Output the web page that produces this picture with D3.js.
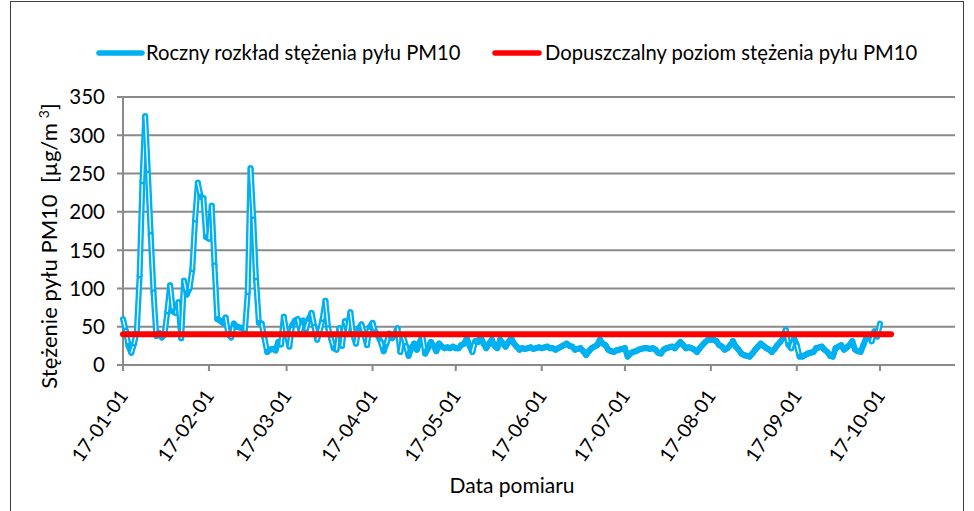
<!DOCTYPE html>
<html><head><meta charset="utf-8">
<script src="https://cdn.jsdelivr.net/npm/d3@7"></script>
<style>body{margin:0;background:#fff}svg{display:block}text{font-family:Lato,"Open Sans",sans-serif;fill:#000;white-space:pre}</style>
</head><body><svg id="c" width="974" height="511"></svg>
<script>
// ---- data ----
const startDate = "2017-01-01";
const pm10 = [
60,45,25,16,28,45,117,240,325,250,170,95,38,42,36,40,70,104,70,68,
82,35,110,92,100,125,190,238,220,218,167,165,208,130,60,58,55,62,40,36,
54,50,49,48,46,95,257,190,110,55,54,35,17,20,21,19,30,27,63,40,
24,52,58,60,45,58,47,60,68,50,33,45,60,84,48,35,22,20,48,25,
57,45,69,40,28,48,53,40,26,50,55,43,38,30,18,28,41,35,40,48,
17,38,25,12,22,28,20,30,38,15,22,30,25,18,28,24,22,23,22,24,
22,22,26,28,35,25,17,31,30,37,28,22,28,33,25,22,33,28,24,30,
35,28,24,20,22,21,22,23,21,22,23,22,23,24,22,22,20,22,24,26,
28,25,24,20,21,22,18,13,18,22,24,26,33,28,26,20,18,17,19,20,
21,22,11,15,17,18,20,21,22,22,21,22,20,16,15,20,22,23,24,22,
26,30,26,22,23,22,20,17,22,26,30,33,33,33,31,26,24,20,22,26,
31,24,20,15,13,12,11,15,20,24,28,25,22,20,17,21,26,30,35,46,
26,22,35,26,11,11,13,15,16,17,22,23,24,20,17,12,11,22,24,26,
20,23,26,31,20,18,17,26,35,39,31,44,37,54
];
const limitValue = 40;
const limitRange = ["2017-01-01", "2017-10-05"];
const yTicks = [0, 50, 100, 150, 200, 250, 300, 350];
const xTickDates = ["2017-01-01","2017-02-01","2017-03-01","2017-04-01","2017-05-01","2017-06-01","2017-07-01","2017-08-01","2017-09-01","2017-10-01"];
const seriesNames = ["Roczny rozkład stężenia pyłu PM10", "Dopuszczalny poziom stężenia pyłu PM10"];
const xTitle = "Data pomiaru";
const yTitleMain = "Stężenie pyłu PM10  [µg/m";
const yTitleSup = "3";
const yTitleEnd = "]";

// ---- chart ----
const parse = d3.timeParse("%Y-%m-%d");
const fmt = d3.timeFormat("%y-%m-%d");
const t0 = parse(startDate);
const series = pm10.map((v, i) => ({date: d3.timeDay.offset(t0, i), v}));

const svg = d3.select("#c");
const BLUE = "#00B0F0", RED = "#FF0000", GRID = "#8a8a8a";

const x = d3.scaleTime().domain([parse(xTickDates[0]), parse(xTickDates[xTickDates.length - 1])]).range([123, 880]);
const y = d3.scaleLinear().domain([0, 350]).range([365, 97]);

// frame
svg.append("rect").attr("x", 10.5).attr("y", 1.5).attr("width", 953).attr("height", 530)
  .attr("fill", "none").attr("stroke", "#404040").attr("stroke-width", 1);

// gridlines (with left tick stubs)
svg.append("g").selectAll("line").data(yTicks).join("line")
  .attr("x1", 117).attr("x2", 955)
  .attr("y1", d => y(d)).attr("y2", d => y(d))
  .attr("stroke", GRID).attr("stroke-width", 2);

// y axis line
svg.append("line").attr("x1", x(parse(xTickDates[0]))).attr("x2", x(parse(xTickDates[0])))
  .attr("y1", y(350)).attr("y2", y(0) + 6).attr("stroke", GRID).attr("stroke-width", 2);

// x ticks
svg.append("g").selectAll("line").data(xTickDates).join("line")
  .attr("x1", d => x(parse(d))).attr("x2", d => x(parse(d)))
  .attr("y1", y(0)).attr("y2", y(0) + 6)
  .attr("stroke", GRID).attr("stroke-width", 2);

// y tick labels
svg.append("g").selectAll("text").data(yTicks).join("text")
  .attr("x", 105).attr("y", d => y(d)).attr("dy", "0.36em")
  .attr("text-anchor", "end").attr("font-size", 20.5).text(d => d);

// x tick labels
svg.append("g").selectAll("text").data(xTickDates).join("text")
  .attr("transform", d => `translate(${x(parse(d)) + 6},${y(0) + 31}) rotate(-55)`)
  .attr("text-anchor", "end").attr("font-size", 19.5).text(d => fmt(parse(d)));

// data line: per-segment compound stroke (blue with thin white core)
const line = d3.line().x(d => x(d.date)).y(d => y(d.v));
const segG = svg.append("g");
for (let i = 0; i < series.length - 1; i++) {
  const seg = [series[i], series[i + 1]];
  segG.append("path").attr("d", line(seg)).attr("fill", "none")
    .attr("stroke", BLUE).attr("stroke-width", 6).attr("stroke-linecap", "round").attr("stroke-linejoin", "round");
  const dx = x(seg[1].date) - x(seg[0].date), dy = y(seg[1].v) - y(seg[0].v);
  if (Math.hypot(dx, dy) > 9) {
    segG.append("path").attr("d", line(seg)).attr("fill", "none")
      .attr("stroke", "#fff").attr("stroke-width", 1.3).attr("stroke-linecap", "round");
  }
}

// limit line
const lim = limitRange.map(d => ({date: parse(d), v: limitValue}));
svg.append("path").attr("d", line(lim)).attr("fill", "none")
  .attr("stroke", RED).attr("stroke-width", 6).attr("stroke-linecap", "round");

// legend
const legend = [
  {name: seriesNames[0], color: BLUE, x1: 99, x2: 142, tx: 146},
  {name: seriesNames[1], color: RED, x1: 495, x2: 539, tx: 545}
];
const lg = svg.append("g");
legend.forEach(l => {
  lg.append("line").attr("x1", l.x1).attr("x2", l.x2).attr("y1", 53).attr("y2", 53)
    .attr("stroke", l.color).attr("stroke-width", 5.5).attr("stroke-linecap", "round");
  lg.append("text").attr("x", l.tx).attr("y", 60).attr("font-size", 20.2).text(l.name);
});

// axis titles
svg.append("text").attr("x", 512).attr("y", 493).attr("text-anchor", "middle")
  .attr("font-size", 21).text(xTitle);

const yt = svg.append("text").attr("transform", "translate(57,246) rotate(-90)")
  .attr("text-anchor", "middle").attr("font-size", 22);
yt.append("tspan").text(yTitleMain);
yt.append("tspan").attr("dx", 5).attr("dy", -8).attr("font-size", 14).text(yTitleSup);
yt.append("tspan").attr("dy", 8).text(yTitleEnd);
</script></body></html>
